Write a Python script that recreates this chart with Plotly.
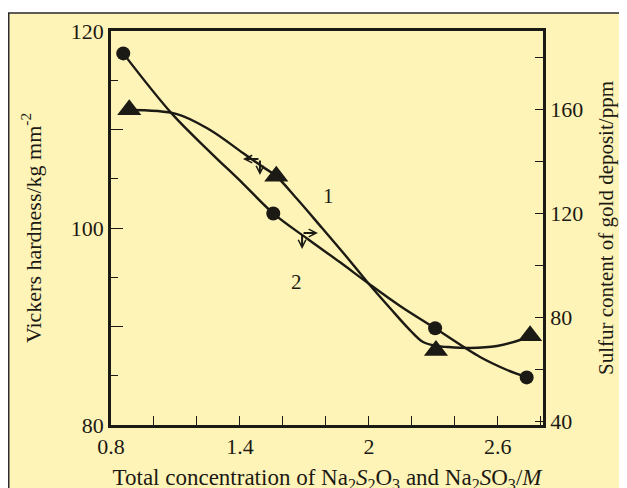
import plotly.graph_objects as go

# ---- data ----
conc_tri = [0.885, 1.569, 2.312, 2.750]           # M
hardness = [112.0, 105.25, 87.57, 89.07]          # Vickers hardness, kg mm^-2 (left axis)
conc_circ = [0.857, 1.555, 2.308, 2.734]          # M
sulfur = [181.4, 119.9, 75.75, 56.9]              # sulfur content, ppm (right axis)

# traced smooth curves
curve1_x = [0.884, 1.107, 1.261, 1.414, 1.507, 1.568, 1.666, 1.782, 1.889, 1.996,
            2.098, 2.191, 2.252, 2.317, 2.364, 2.471, 2.596, 2.703, 2.750]
curve1_y = [111.98, 111.57, 109.95, 107.61, 106.19, 105.28, 102.94, 100.0, 97.26, 94.42,
            91.88, 89.64, 88.43, 88.02, 87.92, 87.82, 88.02, 88.63, 89.04]
curve2_x = [0.857, 1.082, 1.261, 1.414, 1.555, 1.712, 1.866, 1.997, 2.145, 2.308,
            2.517, 2.643, 2.734]
curve2_y = [181.4, 158.35, 143.48, 131.38, 119.93, 110.25, 101.11, 93.04, 84.32, 75.75,
            64.72, 59.73, 56.93]

x_ticks = [0.8, 1.4, 2.0, 2.6]
x_ticktext = ["0.8", "1.4", "2", "2.6"]
x_minor = [1.0, 1.2, 1.6, 1.8, 2.2, 2.4, 2.8]
y_ticks = [80, 90, 100, 110, 120]
y_ticktext = ["80", "", "100", "", "120"]
y_minor = [85, 95, 105, 115]
y2_ticks = [40, 80, 120, 160]
y2_minor = [60, 100, 140, 180]

INK = "#1c1a14"
BG = "#fff4b8"
FONT = "Liberation Serif"

fig = go.Figure()
fig.add_trace(go.Scatter(x=curve1_x, y=curve1_y, mode="lines", line=dict(color=INK, width=2.4, shape="spline"),
                         yaxis="y", showlegend=False, hoverinfo="skip"))
fig.add_trace(go.Scatter(x=curve2_x, y=curve2_y, mode="lines", line=dict(color=INK, width=2.4, shape="spline"),
                         yaxis="y2", showlegend=False, hoverinfo="skip"))
fig.add_trace(go.Scatter(x=conc_tri, y=hardness, mode="markers",
                         marker=dict(symbol="triangle-up", size=21, color=INK), yaxis="y", showlegend=False))
fig.add_trace(go.Scatter(x=conc_circ, y=sulfur, mode="markers",
                         marker=dict(symbol="circle", size=14, color=INK), yaxis="y2", showlegend=False))

axis_common = dict(showline=True, linecolor=INK, linewidth=2.5, showgrid=False, zeroline=False,
                   automargin=False,
                   ticks="inside", tickcolor=INK, tickwidth=1.4,
                   tickfont=dict(family=FONT, size=22, color=INK))

fig.update_layout(
    width=627, height=488,
    margin=dict(l=103, r=92, t=23, b=71),
    paper_bgcolor="white", plot_bgcolor=BG,
    font=dict(family=FONT, color=INK),
    xaxis=dict(range=[0.8, 2.81], tickvals=x_ticks, ticktext=x_ticktext, ticklen=9, mirror=True,
               minor=dict(tickvals=x_minor, ticks="inside", ticklen=9, tickcolor=INK, tickwidth=1.4),
               title=dict(text="Total concentration of Na<sub>2</sub><i>S</i><sub>2</sub>O<sub>3</sub> and "
                               "Na<sub>2</sub><i>S</i>O<sub>3</sub>/<i>M</i>",
                          font=dict(family=FONT, size=23, color=INK), standoff=11),
               **axis_common),
    yaxis=dict(range=[80, 120], tickvals=y_ticks, ticktext=y_ticktext, ticklen=12,
               minor=dict(tickvals=y_minor, ticks="inside", ticklen=7, tickcolor=INK, tickwidth=1.4),
               title=dict(text="Vickers hardness/kg mm<sup>-2</sup>",
                          font=dict(family=FONT, size=22, color=INK), standoff=24),
               **axis_common),
    yaxis2=dict(range=[38.6, 190], overlaying="y", side="right", tickvals=y2_ticks, ticklen=8,
                minor=dict(tickvals=y2_minor, ticks="inside", ticklen=8, tickcolor=INK, tickwidth=1.4),
                title=dict(text="Sulfur content of gold deposit/ppm",
                           font=dict(family=FONT, size=21, color=INK), standoff=17),
                **axis_common),
    shapes=[dict(type="rect", xref="paper", yref="paper", x0=-0.2367, x1=1.25, y0=-0.3, y1=1.0457,
                 fillcolor=BG, line=dict(color="#2a2a2a", width=1.5), layer="below")],
)

def arrow(x, y, ax, ay):
    fig.add_annotation(x=x, y=y, ax=ax, ay=ay, xref="x", yref="y", axref="x", ayref="y",
                       text="", showarrow=True, arrowhead=5, arrowsize=0.75, arrowwidth=2.0,
                       arrowcolor=INK, standoff=0, startstandoff=0)

# arrow glyphs pointing to the relevant axes
arrow(1.414, 107.0, 1.493, 107.0)
arrow(1.493, 105.38, 1.493, 107.0)
arrow(1.763, 99.49, 1.689, 99.49)
arrow(1.689, 97.87, 1.689, 99.49)

fig.add_annotation(x=1.81, y=103.25, xref="x", yref="y", text="1", showarrow=False,
                   font=dict(family=FONT, size=21, color=INK))
fig.add_annotation(x=1.664, y=94.55, xref="x", yref="y", text="2", showarrow=False,
                   font=dict(family=FONT, size=21, color=INK))

fig.write_html("out.html")
